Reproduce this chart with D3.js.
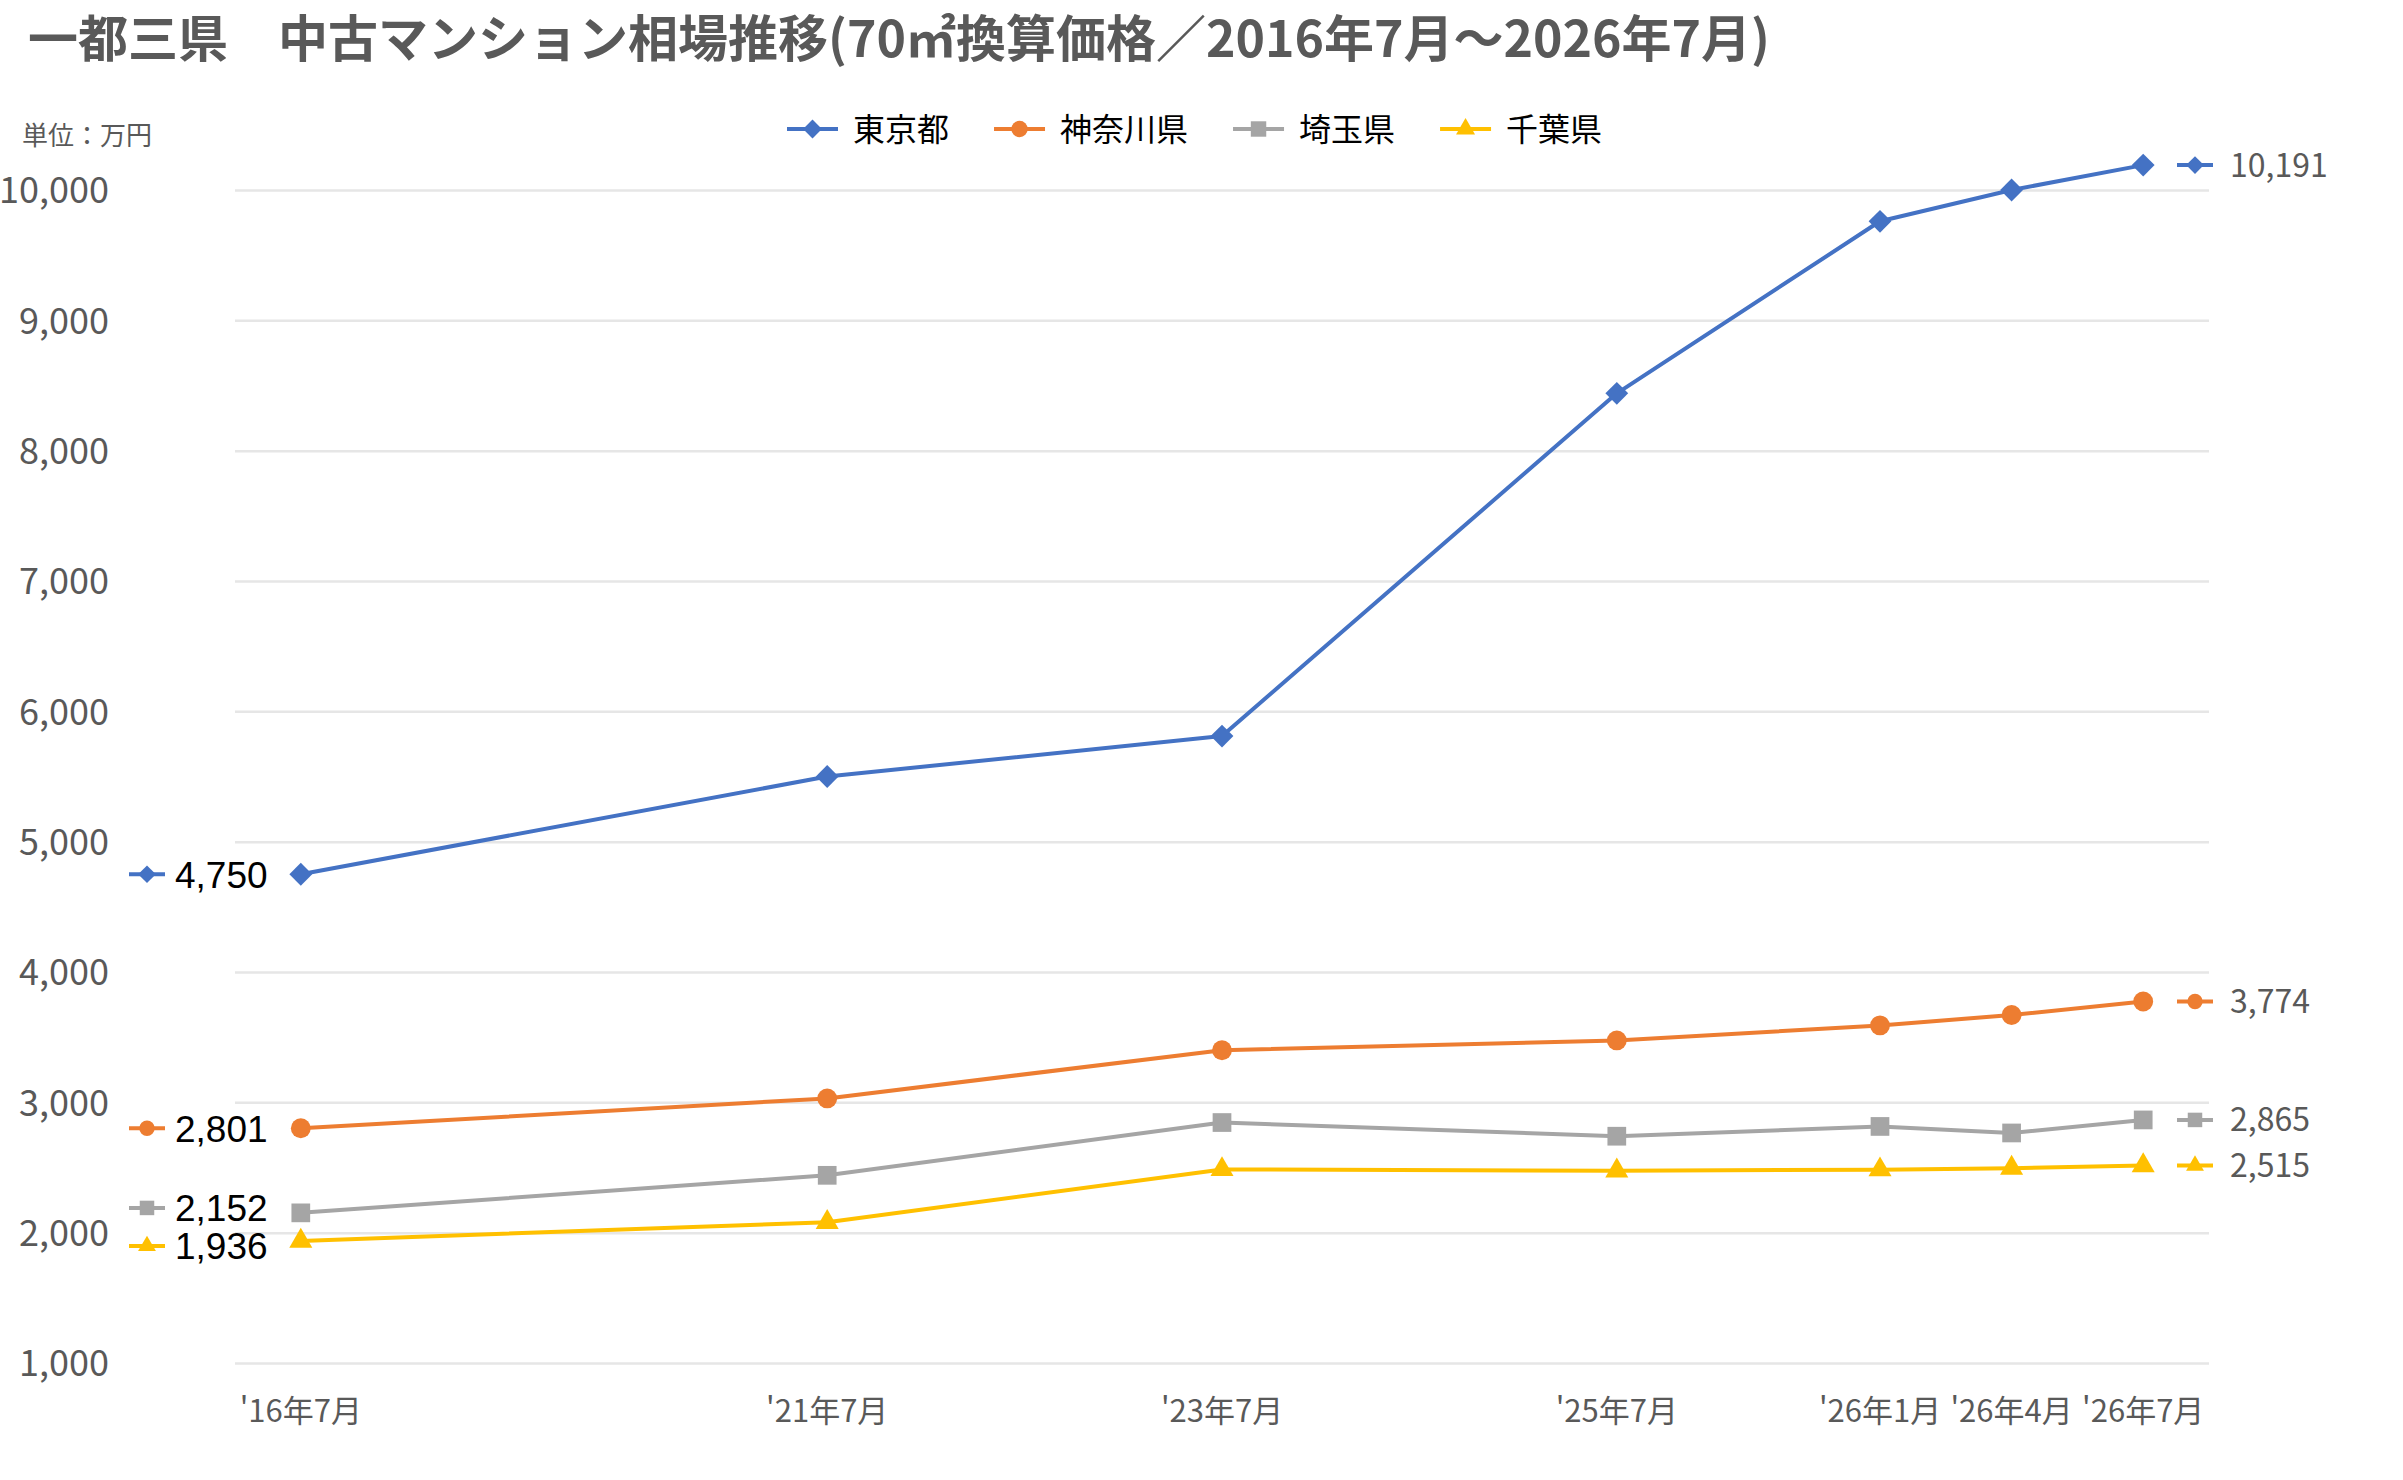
<!DOCTYPE html>
<html lang="ja">
<head>
<meta charset="utf-8">
<title>一都三県 中古マンション相場推移</title>
<script src="https://cdn.jsdelivr.net/npm/d3@7"></script>
<style>
  html, body { margin: 0; padding: 0; background: #fff; }
  svg { display: block; }
  text { font-family: "Noto Sans CJK JP", "Noto Sans", sans-serif; }
</style>
</head>
<body>
<div id="chart"></div>
<script>
// Category slots (blank slots keep the uneven spacing between survey dates)
const slotLabels = ["'16年7月", "", "", "", "'21年7月", "", "", "'23年7月", "", "", "'25年7月", "", "'26年1月", "'26年4月", "'26年7月"];
const pointSlots = [0, 4, 7, 10, 12, 13, 14];

// 70㎡換算価格 (万円)
const seriesNames = ["東京都", "神奈川県", "埼玉県", "千葉県"];
const tokyo    = [4750, 5500, 5810, 8440, 9760, 10000, 10191];
const kanagawa = [2801, 3030, 3400, 3475, 3590, 3670, 3774];
const saitama  = [2152, 2440, 2845, 2740, 2815, 2765, 2865];
const chiba    = [1936, 2080, 2485, 2475, 2483, 2495, 2515];

const yTicks = [1000, 2000, 3000, 4000, 5000, 6000, 7000, 8000, 9000, 10000];

const titleText = "一都三県　中古マンション相場推移(70㎡換算価格／2016年7月～2026年7月)";
const unitText = "単位：万円";

// ---- styles ----
const W = 2403, H = 1480;
const plot = { left: 235, right: 2209, top: 190, bottom: 1363 };
const textGray = "#595959";

const series = [
  { name: seriesNames[0], values: tokyo,    color: "#4472C4", symbol: d3.symbolSquare,   size: 260, rotate: 45 },
  { name: seriesNames[1], values: kanagawa, color: "#ED7D31", symbol: d3.symbolCircle,   size: 310, rotate: 0 },
  { name: seriesNames[2], values: saitama,  color: "#A5A5A5", symbol: d3.symbolSquare,   size: 350, rotate: 0 },
  { name: seriesNames[3], values: chiba,    color: "#FFC000", symbol: d3.symbolTriangle, size: 230, rotate: 0 }
];

const svg = d3.select("#chart").append("svg")
  .attr("width", W)
  .attr("height", H)
  .attr("viewBox", `0 0 ${W} ${H}`);

svg.append("rect").attr("width", W).attr("height", H).attr("fill", "#fff");

// scales
const x = d3.scaleBand()
  .domain(d3.range(slotLabels.length))
  .range([plot.left, plot.right])
  .paddingInner(0)
  .paddingOuter(0);
const cx = slot => x(slot) + x.bandwidth() / 2;

const y = d3.scaleLinear()
  .domain([1000, 10000])
  .range([plot.bottom, plot.top]);

// title + unit
svg.append("text")
  .attr("x", 28)
  .attr("y", 57)
  .style("font-size", "50px")
  .style("font-weight", "700")
  .style("fill", textGray)
  .text(titleText);

svg.append("text")
  .attr("x", 22)
  .attr("y", 145)
  .style("font-size", "26px")
  .style("fill", textGray)
  .text(unitText);

// y axis with gridlines
const yAxis = svg.append("g")
  .attr("transform", `translate(${plot.left},0)`)
  .call(d3.axisLeft(y)
    .tickValues(yTicks)
    .tickSize(-(plot.right - plot.left))
    .tickPadding(126)
    .tickFormat(d3.format(",")));
yAxis.select(".domain").remove();
yAxis.selectAll(".tick line")
  .attr("stroke", "#E6E6E6")
  .attr("stroke-width", 2.5);
yAxis.selectAll(".tick text")
  .attr("dy", "0.36em")
  .style("font-family", "'Noto Sans CJK JP', 'Noto Sans', sans-serif")
  .style("font-size", "36px")
  .style("fill", textGray);

// x axis labels
const xAxis = svg.append("g")
  .attr("transform", `translate(0,${plot.bottom})`)
  .call(d3.axisBottom(x)
    .tickSize(0)
    .tickPadding(37)
    .tickFormat(i => slotLabels[i]));
xAxis.select(".domain").remove();
xAxis.selectAll(".tick text")
  .style("font-family", "'Noto Sans CJK JP', 'Noto Sans', sans-serif")
  .style("font-size", "31px")
  .style("fill", textGray);

// helper: marker path
function marker(g, s, scale) {
  return g.append("path")
    .attr("d", d3.symbol().type(s.symbol).size(s.size * scale)())
    .attr("fill", s.color);
}

// series lines and markers
const line = d3.line()
  .x((d, i) => cx(pointSlots[i]))
  .y(d => y(d));

const seriesLayer = svg.append("g").attr("class", "series-layer");

series.forEach(s => {
  const g = seriesLayer.append("g");
  g.append("path")
    .datum(s.values)
    .attr("d", line)
    .attr("fill", "none")
    .attr("stroke", s.color)
    .attr("stroke-width", 4)
    .attr("stroke-linejoin", "round");

  s.values.forEach((v, i) => {
    marker(g, s, 1)
      .attr("transform", `translate(${cx(pointSlots[i])},${y(v)}) rotate(${s.rotate})`);
  });
});

// spread label positions so they do not overlap
function spread(items, minGap) {
  const sorted = items.slice().sort((a, b) => a.y - b.y);
  for (let k = 1; k < sorted.length; k++) {
    const gap = sorted[k].y - sorted[k - 1].y;
    if (gap < minGap) {
      const push = (minGap - gap) / 2;
      sorted[k - 1].y -= push;
      sorted[k].y += push;
    }
  }
  return items;
}

// first / last value labels with legend key
const labelLayer = svg.append("g").attr("class", "label-layer");

const leftLabels = spread(series.map(s => ({ s, v: s.values[0], y: y(s.values[0]) })), 38);
const rightLabels = spread(series.map(s => ({ s, v: s.values[s.values.length - 1], y: y(s.values[s.values.length - 1]) })), 38);

function keyLabel(item, x0, textX, fill, font, fontSize) {
  const g = labelLayer.append("g");
  g.append("line")
    .attr("x1", x0).attr("x2", x0 + 36)
    .attr("y1", item.y).attr("y2", item.y)
    .attr("stroke", item.s.color)
    .attr("stroke-width", 4);
  marker(g, item.s, 0.6)
    .attr("transform", `translate(${x0 + 18},${item.y}) rotate(${item.s.rotate})`);
  g.append("text")
    .attr("x", textX)
    .attr("y", item.y)
    .attr("dy", "0.36em")
    .style("font-family", font)
    .style("font-size", fontSize)
    .style("fill", fill)
    .text(d3.format(",")(item.v));
}

leftLabels.forEach(item => keyLabel(item, 129, 175, "#000", "'Liberation Sans', Arial, sans-serif", "37px"));
rightLabels.forEach(item => keyLabel(item, 2177, 2230, textGray, "'Noto Sans CJK JP', 'Noto Sans', sans-serif", "32px"));

// legend
const legend = svg.append("g").attr("class", "legend");
let lx = 787;
const ly = 129;
series.forEach(s => {
  const item = legend.append("g");
  item.append("line")
    .attr("x1", lx).attr("x2", lx + 51)
    .attr("y1", ly).attr("y2", ly)
    .attr("stroke", s.color)
    .attr("stroke-width", 4);
  marker(item, s, 0.68)
    .attr("transform", `translate(${lx + 25.5},${ly}) rotate(${s.rotate})`);
  const t = item.append("text")
    .attr("x", lx + 66)
    .attr("y", ly)
    .attr("dy", "0.36em")
    .style("font-size", "32px")
    .style("fill", "#000")
    .text(s.name);
  lx += 66 + t.node().getComputedTextLength() + 45;
});
</script>
</body>
</html>
